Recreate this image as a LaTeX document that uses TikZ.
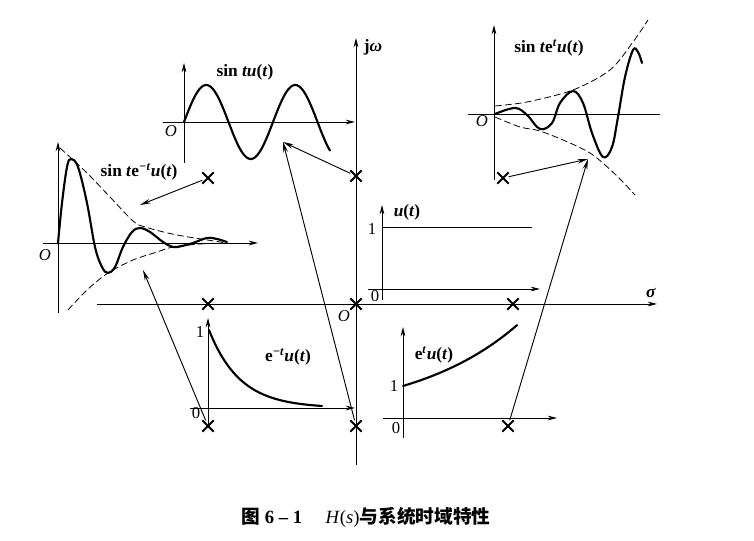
\documentclass[tikz,border=0pt]{standalone}
\usepackage{fontspec}
\setmainfont{Liberation Serif}
\newfontfamily\cjk{Noto Sans CJK SC}
\usetikzlibrary{arrows.meta,shapes.misc}
\begin{document}
\begin{tikzpicture}[x=0.75pt,y=-0.75pt,
  axis/.style={line width=0.7pt,-{Stealth[length=7pt,width=3.5pt]}},
  plain/.style={line width=0.7pt},
  curve/.style={line width=1.6pt,line join=round,line cap=round},
  env/.style={line width=0.6pt,dash pattern=on 5pt off 2.5pt},
  conn/.style={line width=0.7pt,-{Stealth[length=8pt,width=3.5pt]}},
  pole/.style={cross out,draw,line width=1.5pt,minimum size=7pt,inner sep=0pt},
  lbl/.style={font=\bfseries\fontsize{13}{15}\selectfont,inner sep=0pt},
  num/.style={font=\fontsize{12.5}{14}\selectfont,inner sep=0pt}]
\useasboundingbox (0,0) rectangle (754,541);

% ---------- s-plane ----------
\draw[axis] (356,465) -- (356,38);
\draw[axis] (97,304) -- (657,304);
\node[lbl] (jw) at (373,47) {j\textit{ω}};
\node[lbl] (sig) at (651,293) {\textit{σ}};
\node[num] (O0) at (344,316) {\textit{O}};

% poles
\node[pole] (pA) at (208,178) {};
\node[pole] (pB) at (208,304) {};
\node[pole] (pC) at (208,426) {};
\node[pole] (pD) at (356,176) {};
\node[pole] (pE) at (356,304) {};
\node[pole] (pF) at (356,426) {};
\node[pole] (pG) at (503,178) {};
\node[pole] (pH) at (513,304) {};
\node[pole] (pI) at (508,426) {};

% targets
\coordinate (tA) at (283,142);
\coordinate (tB) at (140,205);
\coordinate (tC) at (143,270);
\coordinate (tD) at (588,159);

\draw[conn] (pA) -- (tB);
\draw[conn] (pD) -- (tA);
\draw[conn] (pF) -- (tA);
\draw[conn] (pC) -- (tC);
\draw[conn] (pG) -- (tD);
\draw[conn] (pI) -- (tD);

% ---------- sin t u(t) ----------
\draw[axis] (184,163) -- (184,63);
\draw[axis] (163,122) -- (355,122);
\node[num] (O1) at (171,131) {\textit{O}};
\node[lbl] (l1) at (245,72) {sin \textit{tu}(\textit{t})};
\draw[curve] plot[domain=0:146,samples=120] ({184+\x},{122-37*sin(4.0449*\x)});

% ---------- sin t e^{-t} u(t) ----------
\draw[axis] (58,313) -- (58,142);
\draw[axis] (43,243) -- (258,243);
\node[num] (O2) at (45,255) {\textit{O}};
\node[lbl] (l2) at (139,172) {sin \textit{t}e\textsuperscript{\textit{−t}}\textit{u}(\textit{t})};
\draw[env] plot[smooth] coordinates {(60,148) (87,173) (110,197) (133,221) (145,227) (177,235) (227,243)};
\draw[env] plot[smooth] coordinates {(68,310) (87,290) (108,273) (133,260) (157,252) (173,247) (200,244) (227,243)};
\draw[curve] plot[smooth,tension=0.6] coordinates {(58,243) (62,203) (67,167) (71,159) (78,167) (87,203) (95,247) (102,267) (108,273) (115,267) (123,247) (132,232) (140,228) (150,232) (163,242) (173,247) (182,246) (193,243) (207,238) (217,239) (227,242)};

% ---------- sin t e^{t} u(t) ----------
\draw[axis] (494,180) -- (494,25);
\draw[plain] (468,114) -- (660,114);
\node[num] (O3) at (482,121) {\textit{O}};
\node[lbl] (l3) at (549,48) {sin \textit{t}e\textsuperscript{\textit{t}}\textit{u}(\textit{t})};
\draw[env] plot[smooth] coordinates {(495,106) (527,102) (573,90) (610,70) (633,42) (648,20)};
\draw[env] plot[smooth] coordinates {(495,117) (520,127) (540,131) (570,143) (593,155) (617,176) (635,195)};
\draw[curve] plot[smooth,tension=0.6] coordinates {(495,114) (515,108) (527,115) (540,129) (552,123) (560,103) (573,91) (583,103) (592,133) (603,157) (612,147) (618,117) (625,77) (633,50) (638,52) (642,63)};

% ---------- u(t) ----------
\draw[axis] (382,300) -- (382,205);
\draw[axis] (368,289) -- (540,289);
\draw[plain] (382,227) -- (532,227);
\node[lbl] (l4) at (407,212) {\textit{u}(\textit{t})};
\node[num] (n41) at (372,229) {1};
\node[num] (n40) at (375,296) {0};

% ---------- e^{-t} u(t) ----------
\draw[axis] (208,426) -- (208,318);
\draw[axis] (190,408) -- (355,408);
\draw[curve] plot[domain=0:113,samples=80] ({209+\x},{408-78*exp(-\x/31)});
\node[lbl] (l5) at (288,357) {e\textsuperscript{\textit{−t}}\textit{u}(\textit{t})};
\node[num] (n51) at (200,332) {1};
\node[num] (n50) at (196,413) {0};

% ---------- e^{t} u(t) ----------
\draw[axis] (403,438) -- (403,327);
\draw[axis] (383,418) -- (557,418);
\draw[curve] plot[domain=0:114,samples=80] ({403+\x},{418-32*exp(\x/107)});
\node[lbl] (l6) at (434,355) {e\textsuperscript{\textit{t}}\textit{u}(\textit{t})};
\node[num] (n61) at (394,386) {1};
\node[num] (n60) at (396,428) {0};

% ---------- caption ----------
\node[inner sep=0pt,font=\fontsize{14}{16}\selectfont] (cap) at (366,517) {{\cjk\bfseries 图} {\bfseries 6 – 1}\quad\ \textit{H}(\textit{s}){\cjk\bfseries 与系统时域特性}};
\end{tikzpicture}
\end{document}
